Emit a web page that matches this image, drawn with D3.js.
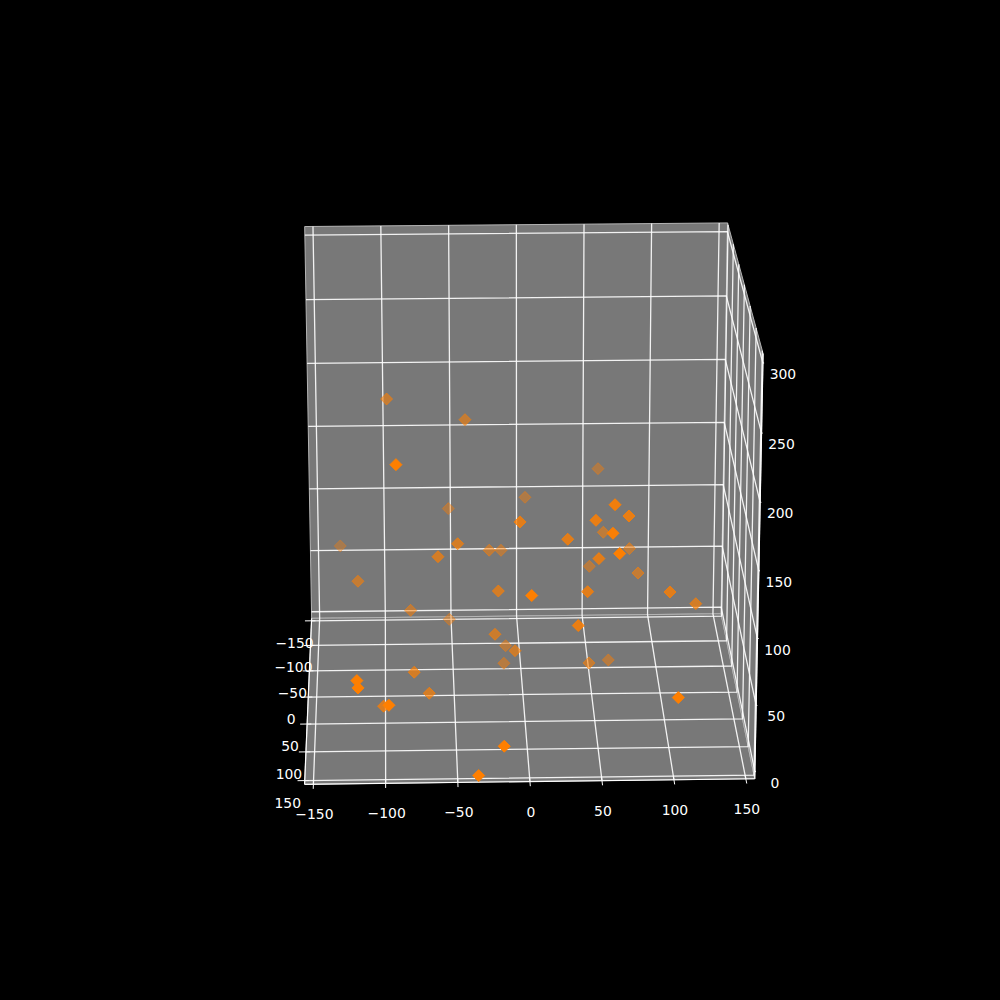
<!DOCTYPE html>
<html>
<head>
<meta charset="utf-8">
<script src="https://d3js.org/d3.v7.min.js"></script>
<style>
  html, body { margin: 0; background: #000; }
  text { font-family: "DejaVu Sans", sans-serif; font-size: 13.9px; fill: #fff; }
</style>
</head>
<body>
<svg id="chart" width="1000" height="1000"></svg>
<script>
const pointsX = [-97.0, -39.9, -90.6, -52.1, -46.7, -61.0, -133.0, -119.3, -81.0, -52.2, -22.8, -13.7, -17.7, -2.6, 59.5, 5.0,
  63.4, 74.1, 50.7, 61.2, 60.8, 31.3, 80.2, 64.4, 53.4, 51.5, 85.3, 45.1, 2.9, 103.8, 124.7, 37.4, -20.0, -11.0,
  -5.6, -12.4, -79.0, -119.3, -118.6, -68.3, -101.3, -97.2, -17.3, -35.3, 48.8, 64.8, 104.1];
const pointsY = [-85.3, -78.6, 71.0, -109.8, -13.9, -11.2, -120.4, -41.8, -50.9, -82.5, -63.8, -80.9, -1.7, 17.1, -116.3, -110.8,
  49.9, 35.5, 35.8, -65.7, 74.0, 22.2, -61.1, 96.2, 27.5, -75.0, -37.6, 35.0, 104.0, 36.9, 5.6, 60.1, -8.7, -57.5,
  -4.3, -53.2, 15.9, 120.0, 121.7, 21.3, 40.5, 126.3, 138.2, 145.3, -16.9, -51.7, 130.6];
const pointsZ = [194.9, 180.6, 199.5, 99.6, 107.8, 98.9, 66.7, 68.6, 41.6, 21.5, 83.5, 76.8, 75.4, 135.7, 127.8, 107.6, 160.2,
  146.2, 143.3, 96.0, 147.7, 124.0, 84.6, 140.8, 110.9, 65.6, 74.3, 88.5, 113.1, 88.3, 66.7, 72.5, 38.8, 9.9, 27.5,
  -2.4, 19.8, 57.0, 52.2, 5.4, 3.8, 40.7, 13.7, -5.3, 12.0, -0.1, 45.8];

const xTicks = [-150, -100, -50, 0, 50, 100, 150];
const yTicks = [-150, -100, -50, 0, 50, 100, 150];
const zTicks = [0, 50, 100, 150, 200, 250, 300];
const xLim = [-156.1, 156.2];
const yLim = [-155.1, 156.3];
const zLim = [-5.4, 306.7];

// camera, fitted against the box corners of the picture
const elev = 19.66 * Math.PI / 180;
const azimOffset = -1.76 * Math.PI / 180;
const camDist = 19.76;
const focal = 4310.5;
const centerX = 523.0;
const centerY = 494.4;

const xBox = d3.scaleLinear().domain(xLim).range([-1, 1]);
const yBox = d3.scaleLinear().domain(yLim).range([1.0125, -1.0125]);
const zBox = d3.scaleLinear().domain(zLim).range([-0.9923, 0.9923]);

function project(x, y, z) {
  const r = xBox(x), f = yBox(y), h = zBox(z);
  const r1 = r * Math.cos(azimOffset) + f * Math.sin(azimOffset);
  const f1 = -r * Math.sin(azimOffset) + f * Math.cos(azimOffset);
  const up = f1 * Math.sin(elev) + h * Math.cos(elev);
  const depth = camDist + f1 * Math.cos(elev) - h * Math.sin(elev);
  return [centerX + focal * r1 / depth, centerY - focal * up / depth, depth];
}

const svg = d3.select("#chart");
const line3d = d3.line().x(d => project(...d)[0]).y(d => project(...d)[1]);
const [x0, x1] = xLim, [y0, y1] = yLim, [z0, z1] = zLim;

// panes
const panes = [
  [[x0, y0, z0], [x1, y0, z0], [x1, y0, z1], [x0, y0, z1]],
  [[x0, y0, z0], [x1, y0, z0], [x1, y1, z0], [x0, y1, z0]],
  [[x1, y0, z0], [x1, y1, z0], [x1, y1, z1], [x1, y0, z1]]
];
svg.append("g").selectAll("path").data(panes).enter().append("path")
  .attr("d", d => line3d(d) + "Z")
  .attr("fill", "#787878")
  .attr("stroke", "#b4b4b4")
  .attr("stroke-width", 1);

// grid
const gridLines = [
  ...xTicks.map(t => [[t, y1, z0], [t, y0, z0], [t, y0, z1]]),
  ...yTicks.map(t => [[x0, t, z0], [x1, t, z0], [x1, t, z1]]),
  ...zTicks.map(t => [[x0, y0, t], [x1, y0, t], [x1, y1, t]])
];
svg.append("g").selectAll("path").data(gridLines).enter().append("path")
  .attr("d", line3d)
  .attr("fill", "none")
  .attr("stroke", "#fff")
  .attr("stroke-opacity", 0.9)
  .attr("stroke-width", 1.3);

// axis lines
const axisLines = [
  [[x0, y1, z0], [x1, y1, z0]],
  [[x0, y0, z0], [x0, y1, z0]],
  [[x1, y1, z0], [x1, y1, z1]]
];
svg.append("g").selectAll("path").data(axisLines).enter().append("path")
  .attr("d", line3d)
  .attr("fill", "none")
  .attr("stroke", "#fff")
  .attr("stroke-width", 1.2);

// ticks, the z ones barely stick out
const tickLines = [
  ...xTicks.map(t => [[t, y1 - 6, z0], [t, y1 + 8, z0]]),
  ...yTicks.map(t => [[x0 + 3, t, z0], [x0 - 5, t, z0]]),
  ...zTicks.map(t => [[x1, y1, t], [x1 + 0.8, y1, t]])
];
svg.append("g").selectAll("path").data(tickLines).enter().append("path")
  .attr("d", line3d)
  .attr("fill", "none")
  .attr("stroke", "#fff")
  .attr("stroke-width", 1);

// tick labels
const fmt = v => String(v).replace("-", "\u2212");
const labels = [
  ...xTicks.map(t => ({ t, p: project(t, y1, z0), dx: 1, dy: 30 })),
  ...yTicks.map(t => ({ t, p: project(x0, t, z0), dx: -17, dy: 22 })),
  ...zTicks.map(t => ({ t, p: project(x1, y1, t), dx: 20, dy: 11 }))
];
svg.append("g").selectAll("text").data(labels).enter().append("text")
  .attr("x", d => d.p[0] + d.dx)
  .attr("y", d => d.p[1] + d.dy)
  .attr("text-anchor", "middle")
  .attr("dominant-baseline", "central")
  .text(d => fmt(d.t));

// points, far ones first and faded by depth
const pts = pointsX.map((x, i) => project(x, pointsY[i], pointsZ[i]));
const shade = d3.scaleLinear().domain(d3.extent(pts, d => d[2])).range([1, 0.35]);
pts.sort((a, b) => b[2] - a[2]);
svg.append("g").selectAll("path").data(pts).enter().append("path")
  .attr("d", "M0,-6L6,0L0,6L-6,0Z")
  .attr("transform", d => `translate(${d[0]},${d[1]})`)
  .attr("fill", "#ff7f00")
  .attr("stroke", "#ff7f00")
  .attr("stroke-width", 1)
  .attr("fill-opacity", d => shade(d[2]))
  .attr("stroke-opacity", d => shade(d[2]));
</script>
</body>
</html>
